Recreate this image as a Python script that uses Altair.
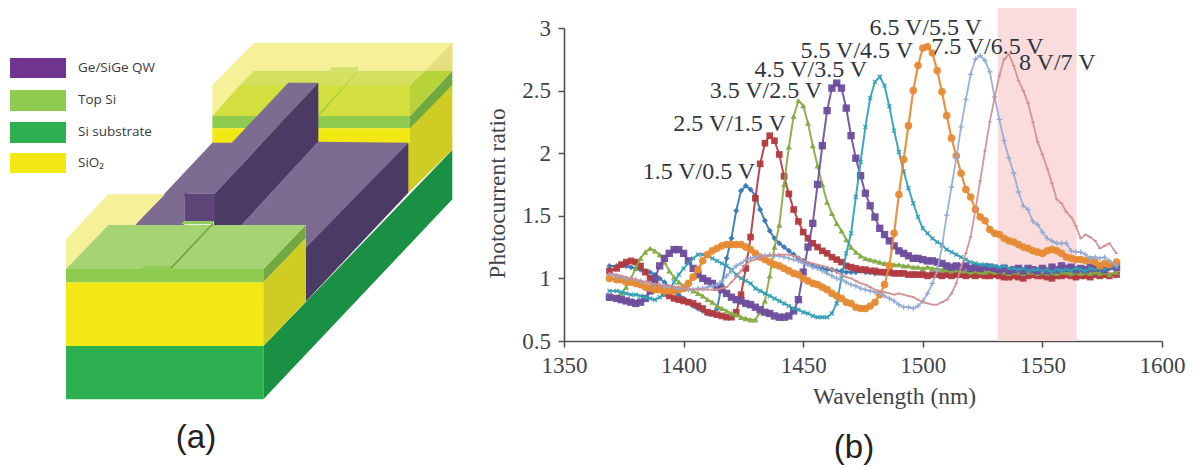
import altair as alt
import pandas as pd

# ---------- panel (b) data ----------
wavelengths = list(range(1370, 1582, 2))
wavelengths[0] = 1369
wavelengths[-1] = 1581

s1 = [1.10,1.10,1.11,1.10,1.09,1.08,1.07,1.06,1.05,1.03,
      1.00,.97,.93,.90,.87,.84,.81,.78,.76,.74,
      .72,.72,.76,.95,1.16,1.32,1.54,1.70,1.74,1.71,
      1.66,1.55,1.46,1.38,1.32,1.28,1.25,1.22,1.19,1.16,
      1.14,1.12,1.10,1.09,1.08,1.07,1.07,1.06,1.06,1.05,
      1.05,1.05,1.06,1.05,1.05,1.04,1.05,1.04,1.04,1.04,
      1.04,1.04,1.03,1.04,1.03,1.04,1.03,1.03,1.04,1.03,
      1.03,1.04,1.03,1.03,1.04,1.03,1.04,1.03,1.03,1.04,
      1.03,1.04,1.03,1.04,1.03,1.05,1.04,1.03,1.05,1.04,
      1.05,1.03,1.04,1.05,1.04,1.03,1.05,1.04,1.06,1.05,
      1.06,1.05,1.07,1.06,1.08,1.07]
s2 = [1.06,1.08,1.11,1.13,1.14,1.13,1.10,1.05,1.00,.96,
      .92,.88,.86,.84,.83,.82,.81,.80,.78,.76,
      .73,.72,.71,.70,.69,.69,.73,.87,1.08,1.33,
      1.64,1.915,2.08,2.14,2.10,1.99,1.815,1.675,1.55,1.455,
      1.37,1.32,1.28,1.25,1.22,1.20,1.17,1.15,1.13,1.10,
      1.09,1.08,1.07,1.07,1.06,1.06,1.05,1.05,1.05,1.04,
      1.04,1.04,1.03,1.03,1.03,1.03,1.02,1.03,1.03,1.02,
      1.03,1.02,1.03,1.03,1.02,1.03,1.02,1.03,1.02,1.02,
      1.03,1.02,1.01,1.01,1.02,1.01,1.00,1.02,1.03,1.02,
      1.02,1.01,1.00,1.02,1.02,1.03,1.02,1.01,1.02,1.02,
      1.01,1.03,1.02,1.03,1.02,1.03]
s3 = [.84,.85,.88,.93,1.00,1.08,1.16,1.21,1.24,1.22,
      1.19,1.13,1.06,1.01,.97,.94,.92,.90,.88,.86,
      .83,.81,.78,.76,.74,.72,.71,.69,.68,.67,
      .67,.73,.82,1.02,1.25,1.425,1.75,2.05,2.295,2.42,
      2.38,2.24,2.06,1.90,1.75,1.61,1.52,1.44,1.38,1.31,
      1.25,1.21,1.18,1.16,1.15,1.14,1.13,1.12,1.12,1.11,
      1.11,1.10,1.10,1.09,1.09,1.08,1.09,1.08,1.08,1.07,
      1.07,1.06,1.07,1.06,1.06,1.05,1.06,1.05,1.05,1.06,
      1.05,1.06,1.05,1.04,1.05,1.05,1.04,1.05,1.05,1.04,
      1.05,1.04,1.05,1.04,1.05,1.05,1.04,1.05,1.04,1.05,
      1.04,1.05,1.04,1.05,1.03,1.05]
s4 = [.85,.84,.83,.82,.81,.80,.81,.84,.90,1.00,
      1.10,1.16,1.20,1.23,1.23,1.20,1.14,1.08,1.03,1.00,
      .98,.96,.93,.91,.88,.85,.83,.82,.80,.79,
      .77,.75,.73,.72,.70,.69,.69,.70,.74,.83,
      1.05,1.25,1.44,1.75,2.06,2.34,2.52,2.56,2.52,2.36,
      2.14,1.96,1.82,1.68,1.58,1.49,1.40,1.35,1.30,1.26,
      1.22,1.20,1.18,1.16,1.16,1.15,1.14,1.14,1.13,1.12,
      1.10,1.09,1.10,1.09,1.10,1.08,1.09,1.08,1.09,1.09,
      1.08,1.07,1.08,1.06,1.07,1.08,1.06,1.08,1.07,1.06,
      1.08,1.06,1.09,1.07,1.10,1.08,1.09,1.07,1.08,1.07,
      1.09,1.08,1.10,1.07,1.10,1.09]
s5 = [.90,.90,.89,.88,.87,.87,.86,.85,.84,.83,
      .85,.87,.91,.97,1.03,1.08,1.12,1.16,1.19,1.19,
      1.18,1.16,1.14,1.12,1.10,1.07,1.03,1.00,.98,.96,
      .92,.90,.88,.86,.84,.82,.80,.78,.76,.75,
      .73,.72,.70,.69,.69,.69,.72,.80,1.00,1.20,
      1.36,1.65,1.93,2.21,2.44,2.57,2.61,2.54,2.375,2.18,
      2.01,1.855,1.72,1.60,1.49,1.40,1.36,1.32,1.29,1.27,
      1.23,1.21,1.19,1.17,1.15,1.13,1.12,1.11,1.11,1.10,
      1.10,1.09,1.10,1.08,1.08,1.07,1.08,1.06,1.07,1.07,
      1.06,1.07,1.05,1.07,1.06,1.07,1.06,1.08,1.07,1.06,
      1.08,1.07,1.09,1.07,1.10,1.09]
s6 = [1.00,.99,.99,.97,.97,.96,.95,.93,.92,.91,
      .91,.90,.90,.90,.91,.92,.96,1.01,1.07,1.14,
      1.19,1.22,1.24,1.26,1.27,1.27,1.27,1.27,1.25,1.23,
      1.20,1.17,1.15,1.13,1.11,1.10,1.08,1.06,1.04,1.03,
      1.00,.98,.96,.95,.93,.91,.88,.86,.84,.81,
      .80,.77,.76,.76,.78,.81,.87,.95,1.10,1.36,
      1.67,1.95,2.22,2.50,2.70,2.84,2.85,2.80,2.66,2.49,
      2.30,2.12,1.98,1.84,1.71,1.65,1.55,1.49,1.46,1.39,
      1.36,1.35,1.32,1.30,1.29,1.27,1.25,1.24,1.22,1.21,
      1.20,1.22,1.23,1.22,1.20,1.17,1.16,1.15,1.15,1.14,
      1.15,1.13,1.10,1.12,1.11,1.13]
s7 = [1.03,1.02,1.01,1.00,1.00,.99,.98,.97,.96,.95,
      .95,.94,.93,.93,.92,.92,.91,.91,.92,.92,
      .93,.94,.95,.98,1.02,1.06,1.10,1.12,1.15,1.16,
      1.17,1.18,1.18,1.19,1.18,1.18,1.17,1.16,1.15,1.14,
      1.12,1.11,1.09,1.08,1.06,1.04,1.02,1.00,.99,.97,
      .95,.94,.92,.91,.90,.89,.88,.86,.84,.82,
      .79,.77,.77,.76,.78,.82,.88,.96,1.06,1.25,
      1.505,1.73,1.96,2.21,2.43,2.63,2.75,2.78,2.74,2.65,
      2.45,2.27,2.10,1.96,1.84,1.69,1.58,1.55,1.455,1.43,
      1.37,1.32,1.30,1.28,1.28,1.28,1.22,1.21,1.21,1.19,
      1.16,1.17,1.16,1.17,1.14,1.10]
s8 = [1.04,1.03,1.02,1.01,1.00,.99,.98,.97,.96,.95,
      .95,.94,.94,.93,.93,.92,.92,.91,.91,.91,
      .91,.91,.91,.92,.93,.97,1.01,1.06,1.11,1.14,
      1.15,1.17,1.18,1.18,1.19,1.19,1.19,1.19,1.18,1.17,
      1.14,1.13,1.12,1.11,1.10,1.09,1.07,1.05,1.03,1.01,
      1.00,.98,.96,.95,.93,.91,.90,.89,.88,.87,
      .88,.87,.86,.85,.83,.81,.80,.79,.79,.81,
      .83,.88,.96,1.09,1.20,1.33,1.55,1.78,2.02,2.25,
      2.44,2.62,2.75,2.79,2.70,2.58,2.50,2.40,2.25,2.09,
      1.99,1.88,1.76,1.63,1.60,1.53,1.49,1.42,1.32,1.35,
      1.33,1.30,1.24,1.26,1.28,1.20]

X_SHAPE = "M-1,-1L1,1M-1,1L1,-1"
PLUS_SHAPE = "M-1,0L1,0M0,-1L0,1"
DASH_SHAPE = "M-1,0L1,0"
series = [
    (s1, "#3b78b5", "diamond", 36, True, 2.0),
    (s2, "#b23a3f", "square", 44, True, 2.0),
    (s3, "#84aa43", "triangle-up", 38, True, 2.0),
    (s4, "#6e4d9c", "square", 54, True, 2.0),
    (s5, "#2f9fb5", X_SHAPE, 16, False, 2.0),
    (s6, "#e68a33", "circle", 58, True, 2.2),
    (s7, "#93aad3", PLUS_SHAPE, 30, False, 1.8),
    (s8, "#d18d8f", DASH_SHAPE, 12, False, 1.8),
]

curve_labels = ["1.5 V/0.5 V", "2.5 V/1.5 V", "3.5 V/2.5 V", "4.5 V/3.5 V",
                "5.5 V/4.5 V", "6.5 V/5.5 V", "7.5 V/6.5 V", "8 V/7 V"]
label_x = [1406.4, 1419.2, 1434.4, 1453.2, 1472.4, 1501.2, 1527.0, 1556.2]
label_y = [1.85, 2.23, 2.50, 2.667, 2.82, 3.00, 2.85, 2.72]

x_scale = alt.Scale(domain=[1350, 1600], nice=False, zero=False)
y_scale = alt.Scale(domain=[0.5, 3], nice=False, zero=False)

AXC = "#505050"
base_axis = dict(domainColor=AXC, domainWidth=1.6, tickColor=AXC, tickWidth=1.5, tickSize=6,
                 grid=False, labelFont="Liberation Serif", labelFontSize=23, labelColor="#3f444b",
                 labelFlush=False, labelOverlap=False,
                 titleFont="Liberation Serif", titleFontSize=23.5, titleFontWeight="normal",
                 titleColor="#3f444b")

PW, PH = 598, 313

band = alt.Chart(pd.DataFrame({"a": [1531.3], "b": [1564.3]})).mark_rect(color="#fbdcdd").encode(
    x=alt.X("a:Q", scale=x_scale,
            axis=alt.Axis(values=[1350, 1400, 1450, 1500, 1550, 1600], format="d", title="Wavelength (nm)",
                          labelPadding=18, labelBaseline="middle",
                          titleX=330, titleY=43, **base_axis)),
    x2="b:Q",
    y=alt.value(-20),
    y2=alt.value(PH),
)
yaxis_layer = alt.Chart(pd.DataFrame({"w": [1350], "v": [3]})).mark_point(opacity=0).encode(
    x=alt.X("w:Q", scale=x_scale),
    y=alt.Y("v:Q", scale=y_scale,
            axis=alt.Axis(values=[0.5, 1, 1.5, 2, 2.5, 3], format="~g", title="Photocurrent ratio",
                          labelPadding=7.5, titleX=-55, titleY=165, **base_axis)),
)

layers_b = [band, yaxis_layer]
for vals, col, shp, sz, filled, lw in series:
    df = pd.DataFrame({"w": wavelengths, "v": vals})
    layers_b.append(alt.Chart(df).mark_line(color=col, strokeWidth=lw, opacity=0.92).encode(
        x=alt.X("w:Q", scale=x_scale), y=alt.Y("v:Q", scale=y_scale)))
    kw = dict(filled=filled, shape=shp, size=sz, color=col, opacity=0.95)
    if not filled:
        kw["strokeWidth"] = 1.3
    layers_b.append(alt.Chart(df).mark_point(**kw).encode(
        x=alt.X("w:Q", scale=x_scale), y=alt.Y("v:Q", scale=y_scale)))

lab_df = pd.DataFrame({"t": curve_labels, "w": label_x, "v": label_y})
layers_b.append(alt.Chart(lab_df).mark_text(font="Liberation Serif", fontSize=24, color="#2f3540").encode(
    x=alt.X("w:Q", scale=x_scale), y=alt.Y("v:Q", scale=y_scale), text="t:N"))
layers_b.append(alt.Chart(pd.DataFrame({"t": ["(b)"]})).mark_text(
    font="Liberation Sans", fontSize=33, color="#222222", align="center", baseline="middle").encode(
    x=alt.value(290), y=alt.value(420), text="t:N"))

right = alt.layer(*layers_b).properties(width=PW, height=PH)

# ---------- panel (a) data: polygons in picture coordinates ----------
P = "#7e6b92"; PD = "#4b3a63"; PF = "#5d4578"
GF = "#8fcb4f"; GT = "#a6d475"; GS = "#72a840"
Y = "#f2e914"; YS = "#cfcd24"; PY = "#f6f199"
SB = "#2db04f"; SS = "#1a9044"

def Z(*pts):
    return [(50 + a / 3, 40 + b / 3) for a, b in pts]

shapes = [
    (SS, Z((640,918),(1207,330),(1207,478),(640,1078))),
    # back block
    (YS, Z((1070,265),(1207,135),(1207,330),(1070,463))),
    (GS, Z((1080,228),(1207,92),(1207,135),(1080,265))),
    (PY, Z((487,135),(612,8),(1207,8),(1207,92),(612,92),(487,228))),
    ("#e5df7f", Z((1125,92),(1207,8),(1207,92))),
    ("#b8d339", Z((1080,135),(1125,92),(1207,92),(1080,228))),
    ("#d6e05f", Z((570,135),(612,92),(1125,92),(1080,135))),
    ("#d2df3e", Z((487,228),(570,135),(1080,135),(1080,228))),
    ("#d2e06a", Z((835,92),(845,82),(925,82),(925,92))),
    ("#9ccf3c", Z((925,92),(928,90),(810,225),(803,225))),
    (GF, Z((487,228),(1080,228),(1080,265),(487,265))),
    (Y, Z((487,265),(1080,265),(1080,310),(487,310))),
    # waveguide
    (P, Z((255,555),(487,308),(570,308),(403,470),(403,555))),
    (P, Z((575,555),(805,305),(1075,308),(767,630),(767,555))),
    (PD, Z((767,625),(1075,308),(1075,458),(767,785))),
    (P, Z((403,460),(495,460),(805,128),(715,128))),
    (PD, Z((495,460),(805,128),(805,305),(575,555),(492,555))),
    (PF, Z((403,460),(495,460),(495,545),(403,545))),
    # front block
    (PY, Z((48,598),(175,463),(345,463),(255,555),(175,555),(48,687))),
    (SB, Z((48,918),(640,918),(640,1078),(48,1078))),
    (Y, Z((48,727),(640,727),(640,918),(48,918))),
    (GF, Z((48,687),(640,687),(640,727),(48,727))),
    (GS, Z((640,687),(767,555),(767,595),(640,727))),
    (YS, Z((640,727),(767,595),(767,785),(640,918))),
    (GT, Z((48,687),(175,555),(767,555),(640,687))),
    ("#93cb5e", Z((392,553),(402,543),(490,543),(490,553))),
    ("#6ea63c", Z((360,684),(487,550),(491,552),(364,687))),
    ("#8fcb55", Z((275,687),(285,677),(360,677),(362,687))),
    # legend swatches
    ("#6f3591", [(10,58),(66,58),(66,78),(10,78)]),
    (GF, [(10,90),(66,90),(66,111),(10,111)]),
    (SB, [(10,122),(66,122),(66,143),(10,143)]),
    (Y, [(10,153),(66,153),(66,173),(10,173)]),
]

features = [{"type": "Feature",
             "geometry": {"type": "Polygon", "coordinates": [[list(p) for p in pts] + [list(pts[0])]]},
             "properties": {"fill": col, "order": i}}
            for i, (col, pts) in enumerate(shapes)]

proj = dict(type="identity", scale=1, translate=[-8, -28])

layers_a = [alt.Chart(alt.Data(values=[f])).mark_geoshape(stroke=None, fill=f["properties"]["fill"]).project(**proj)
            for f in features]

legend_labels = ["Ge/SiGe QW", "Top Si", "Si substrate", "SiO\u2082"]
legend_x = [78, 78, 78, 78]
legend_y = [68, 100, 132, 163]
layers_a.append(alt.Chart(pd.DataFrame({"t": legend_labels, "x": legend_x, "y": legend_y})).mark_text(
    font="Open Sans", fontSize=13.5, align="left", baseline="middle", color="#3a3a3a").encode(
    longitude="x:Q", latitude="y:Q", text="t:N").project(**proj))
layers_a.append(alt.Chart(pd.DataFrame({"t": ["(a)"], "x": [196], "y": [438]})).mark_text(
    font="Liberation Sans", fontSize=33, align="center", baseline="middle", color="#222222").encode(
    longitude="x:Q", latitude="y:Q", text="t:N").project(**proj))

left = alt.layer(*layers_a).properties(width=470, height=430)

chart = alt.hconcat(left, right, spacing=7).properties(padding=0).configure_view(stroke=None)
chart.save("out.html", embed_options={"renderer": "svg", "actions": False})
